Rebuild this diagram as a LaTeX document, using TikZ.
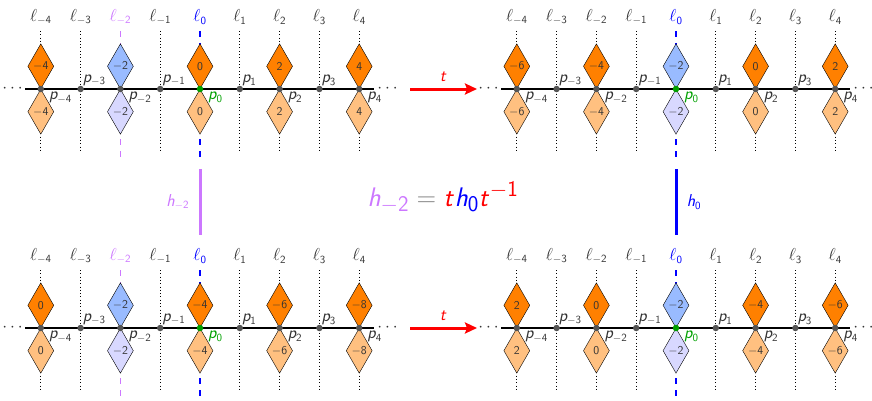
\documentclass[tikz,border=0pt]{standalone}
\usepackage{amsmath}
\usepackage{tikz}
\usetikzlibrary{shapes.geometric,arrows.meta,positioning}

% sans digits and sans italic letters in math
\SetSymbolFont{operators}{normal}{OT1}{cmss}{m}{n}
\DeclareMathAlphabet{\mathsfit}{OT1}{cmss}{m}{sl}
\newcommand{\labsize}{\fontsize{16}{18}\selectfont}

\definecolor{darkor}{RGB}{255,128,0}
\definecolor{lightor}{RGB}{255,192,128}
\definecolor{skyb}{RGB}{153,187,255}
\definecolor{lavb}{RGB}{216,216,255}
\definecolor{viol}{RGB}{204,119,255}
\definecolor{ptgray}{RGB}{85,85,85}
\definecolor{ptgreen}{RGB}{0,160,0}

\tikzset{
  ell/.style={font=\labsize,text=black!80},
  upd/.style={diamond,draw=black,fill=darkor,minimum width=26pt,minimum height=45pt,inner sep=0pt,anchor=south,font=\large,text=black!80},
  lod/.style={upd,fill=lightor,anchor=north},
  bupd/.style={upd,fill=skyb},
  blod/.style={lod,fill=lavb},
  dotpt/.style={circle,inner sep=0pt,minimum size=6.5pt},
  plab/.style={font=\labsize,inner sep=0pt},
  guide/.style={black,line width=0.7pt,dash pattern=on 0.7pt off 2.6pt},
  hline/.style={line width=1.5pt,dash pattern=on 6pt off 6pt},
  tarrow/.style={red,line width=3pt,-{Stealth[length=12pt,width=11pt,inset=2pt]}},
}

% one strip: #1 prefix, #2 column of the blue diamonds, #3 values, #4 lower end of l_{-2}
\newcommand{\chain}[4]{%
  \foreach \i in {-4,...,4}{
    \ifnum\i=0
      \draw[hline,blue] (\i*39.8,58) -- (\i*39.8,-72);
      \node[ell,text=blue] (#1l\i) at (\i*39.8,72) {$\ell_{\i}$};
    \else\ifnum\i=-2
      \draw[mtwo] (\i*39.8,58) -- (\i*39.8,#4);
      \node[ell,mtwotxt] (#1l\i) at (\i*39.8,72) {$\ell_{\i}$};
    \else
      \draw[guide] (\i*39.8,58) -- (\i*39.8,-64);
      \node[ell] (#1l\i) at (\i*39.8,72) {$\ell_{\i}$};
    \fi\fi
  }
  \coordinate (#1w) at (-175,0);
  \coordinate (#1e) at (174,0);
  \draw[line width=1.5pt] (#1w) -- (#1e);
  \node[ell,anchor=base] (#1lw) at (-186,-3.5) {$\cdots$};
  \node[ell,anchor=base] (#1le) at (189,-3.5) {$\cdots$};
  \foreach \i/\v in {#3}{
    \ifnum\i=#2
      \node[bupd] (#1u\i) at (\i*39.8,0) {$\v$};
      \node[blod] (#1d\i) at (\i*39.8,0) {$\v$};
    \else
      \node[upd] (#1u\i) at (\i*39.8,0) {$\v$};
      \node[lod] (#1d\i) at (\i*39.8,0) {$\v$};
    \fi
  }
  \foreach \i in {-4,...,4}{
    \ifnum\i=0 \def\pc{ptgreen}\def\tc{ptgreen}\else\def\pc{ptgray}\def\tc{black!80}\fi
    \node[dotpt,fill=\pc] (#1p\i) at (\i*39.8,0) {};
    \ifodd\i
      \node[plab,text=\tc,anchor=south west] (#1q\i) at (\i*39.8+2,3) {$\mathsfit{p}_{\i}$};
    \else
      \node[plab,text=\tc,anchor=north west] (#1q\i) at (\i*39.8+8,-3) {$\mathsfit{p}_{\i}$};
    \fi
  }
}

\begin{document}
\begin{tikzpicture}[x=1pt,y=1pt]
  \useasboundingbox (0,0) rectangle (872,400);

  \begin{scope}[shift={(200,311)},mtwo/.style={hline,viol},mtwotxt/.style={text=viol}]
    \chain{a}{-2}{-4/-4,-2/-2,0/0,2/2,4/4}{-72}
  \end{scope}
  \begin{scope}[shift={(676,311)},mtwo/.style={guide},mtwotxt/.style={}]
    \chain{b}{0}{-4/-6,-2/-4,0/-2,2/0,4/2}{-64}
  \end{scope}
  \begin{scope}[shift={(200,72)},mtwo/.style={hline,viol},mtwotxt/.style={text=viol}]
    \chain{c}{-2}{-4/0,-2/-2,0/-4,2/-6,4/-8}{-72}
  \end{scope}
  \begin{scope}[shift={(676,72)},mtwo/.style={guide},mtwotxt/.style={}]
    \chain{d}{0}{-4/2,-2/0,0/-2,2/-4,4/-6}{-64}
  \end{scope}

  % the shift t
  \coordinate (t1a) at (410,311);
  \coordinate (t1b) at (477,311);
  \draw[tarrow] (t1a) -- (t1b) node[midway,above=3pt,text=red,font=\labsize] (t1) {$\mathsfit{t}$};
  \coordinate (t2a) at (410,72);
  \coordinate (t2b) at (477,72);
  \draw[tarrow] (t2a) -- (t2b) node[midway,above=3pt,text=red,font=\labsize] (t2) {$\mathsfit{t}$};

  % the two h's
  \coordinate (hmt) at (200,231);
  \coordinate (hmb) at (200,165);
  \draw[viol,line width=3pt] (hmt) -- (hmb) node[midway,left=6pt,text=viol,font=\labsize] (hm) {$\mathsfit{h}_{-2}$};
  \coordinate (hzt) at (676,231);
  \coordinate (hzb) at (676,165);
  \draw[blue,line width=3pt] (hzt) -- (hzb) node[midway,right=6pt,text=blue,font=\labsize] (hz) {$\mathsfit{h}_0$};

  \node[font=\Huge,anchor=base,scale=1.08,transform shape] (eq) at (443,194) {$\textcolor{viol}{\mathsfit{h}_{-2}}\mathrel{\textcolor{gray}{=}}\textcolor{red}{\mathsfit{t}}\textcolor{blue}{\mathsfit{h}_0}\textcolor{red}{\mathsfit{t}^{-1}}$};
\end{tikzpicture}
\end{document}
